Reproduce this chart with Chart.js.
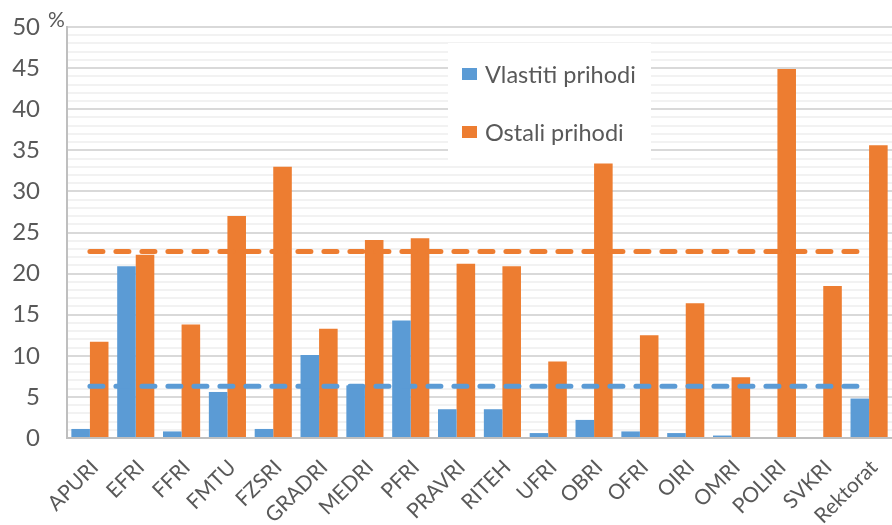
<!DOCTYPE html>
<html>
<head>
<meta charset="utf-8">
<script src="https://cdn.jsdelivr.net/npm/chart.js@4/dist/chart.umd.min.js"></script>
<style>
  html, body { margin: 0; padding: 0; background: #ffffff; }
  #wrap { width: 892px; height: 525px; position: relative; }
</style>
</head>
<body>
<div id="wrap"><canvas id="c" width="892" height="525"></canvas></div>
<script>
const categories = ["APURI","EFRI","FFRI","FMTU","FZSRI","GRADRI","MEDRI","PFRI","PRAVRI","RITEH","UFRI","OBRI","OFRI","OIRI","OMRI","POLIRI","SVKRI","Rektorat"];
const vlastitiPrihodi = [1.1, 20.9, 0.8, 5.6, 1.1, 10.1, 6.4, 14.3, 3.5, 3.5, 0.6, 2.2, 0.8, 0.6, 0.3, 0, 0, 4.8];
const ostaliPrihodi   = [11.7, 22.3, 13.8, 27.0, 33.0, 13.3, 24.1, 24.3, 21.2, 20.9, 9.3, 33.4, 12.5, 16.4, 7.4, 44.9, 18.5, 35.6];
const prosjekVlastiti = 6.3;
const prosjekOstali = 22.7;
const yTicks = [0, 5, 10, 15, 20, 25, 30, 35, 40, 45, 50];
const seriesNames = ["Vlastiti prihodi", "Ostali prihodi"];

const BLUE = "#5B9BD5", ORANGE = "#ED7D31", TXT = "#595959";
const FONT = "Lato, 'Open Sans', sans-serif";

const legendBox = {
  id: "legendBox",
  beforeDatasetsDraw(chart) {
    const ctx = chart.ctx;
    ctx.save();
    ctx.fillStyle = "#ffffff";
    ctx.fillRect(448, 43, 203, 117);
    const items = [[seriesNames[0], BLUE, 74], [seriesNames[1], ORANGE, 132]];
    ctx.font = "23.5px " + FONT;
    ctx.textBaseline = "middle";
    for (const [t, c, y] of items) {
      ctx.fillStyle = c;
      ctx.fillRect(462, y - 6, 15, 12);
      ctx.fillStyle = TXT;
      ctx.fillText(t, 485, y + 1);
    }
    ctx.restore();
  },
  afterDraw(chart) {
    const ctx = chart.ctx;
    ctx.save();
    ctx.fillStyle = TXT;
    ctx.font = "21px " + FONT;
    ctx.textBaseline = "middle";
    ctx.fillText("%", 48, 20);
    ctx.restore();
  }
};

new Chart(document.getElementById("c"), {
  data: {
    labels: categories,
    datasets: [
      { type: "line", label: "Prosjek vlastiti", data: categories.map(() => prosjekVlastiti),
        borderColor: BLUE, borderWidth: 5, borderDash: [13, 13], borderCapStyle: "round",
        pointRadius: 0, fill: false, order: 0 },
      { type: "line", label: "Prosjek ostali", data: categories.map(() => prosjekOstali),
        borderColor: ORANGE, borderWidth: 5, borderDash: [13, 13], borderCapStyle: "round",
        pointRadius: 0, fill: false, order: 0 },
      { type: "bar", label: seriesNames[0], data: vlastitiPrihodi, backgroundColor: BLUE,
        categoryPercentage: 0.81, barPercentage: 1.0, order: 1 },
      { type: "bar", label: seriesNames[1], data: ostaliPrihodi, backgroundColor: ORANGE,
        categoryPercentage: 0.81, barPercentage: 1.0, order: 1 }
    ]
  },
  options: {
    responsive: false,
    animation: false,
    devicePixelRatio: 1,
    layout: { padding: { top: 27, right: 0, left: 0, bottom: 0 } },
    plugins: { legend: { display: false }, tooltip: { enabled: false } },
    scales: {
      x: {
        grid: { display: false },
        border: { display: true, color: "#bfbfbf", width: 2 },
        ticks: { color: TXT, font: { family: FONT, size: 21 }, maxRotation: 45, minRotation: 45, padding: 9, labelOffset: 5, autoSkip: false },
        afterFit(s) { s.height = 87; s.paddingLeft = 0; s.paddingRight = 0; }
      },
      y: {
        min: 0, max: 50,
        afterBuildTicks(s) {
          const arr = [];
          for (let v = 0; v <= 50; v++) arr.push({ value: v });
          s.ticks = arr;
        },
        ticks: {
          autoSkip: false,
          color: TXT, font: { family: FONT, size: 24 }, padding: 27,
          callback: (v) => yTicks.includes(v) ? String(v) : ""
        },
        grid: {
          drawTicks: false,
          color: (c) => (c.tick && yTicks.includes(c.tick.value)) ? "#d9d9d9" : "#f2f2f2",
          lineWidth: 2
        },
        border: { display: true, color: "#bfbfbf", width: 2 },
        afterFit(s) { s.width = 67; s.paddingTop = 0; s.paddingBottom = 0; }
      }
    }
  },
  plugins: [legendBox]
});
</script>
</body>
</html>
